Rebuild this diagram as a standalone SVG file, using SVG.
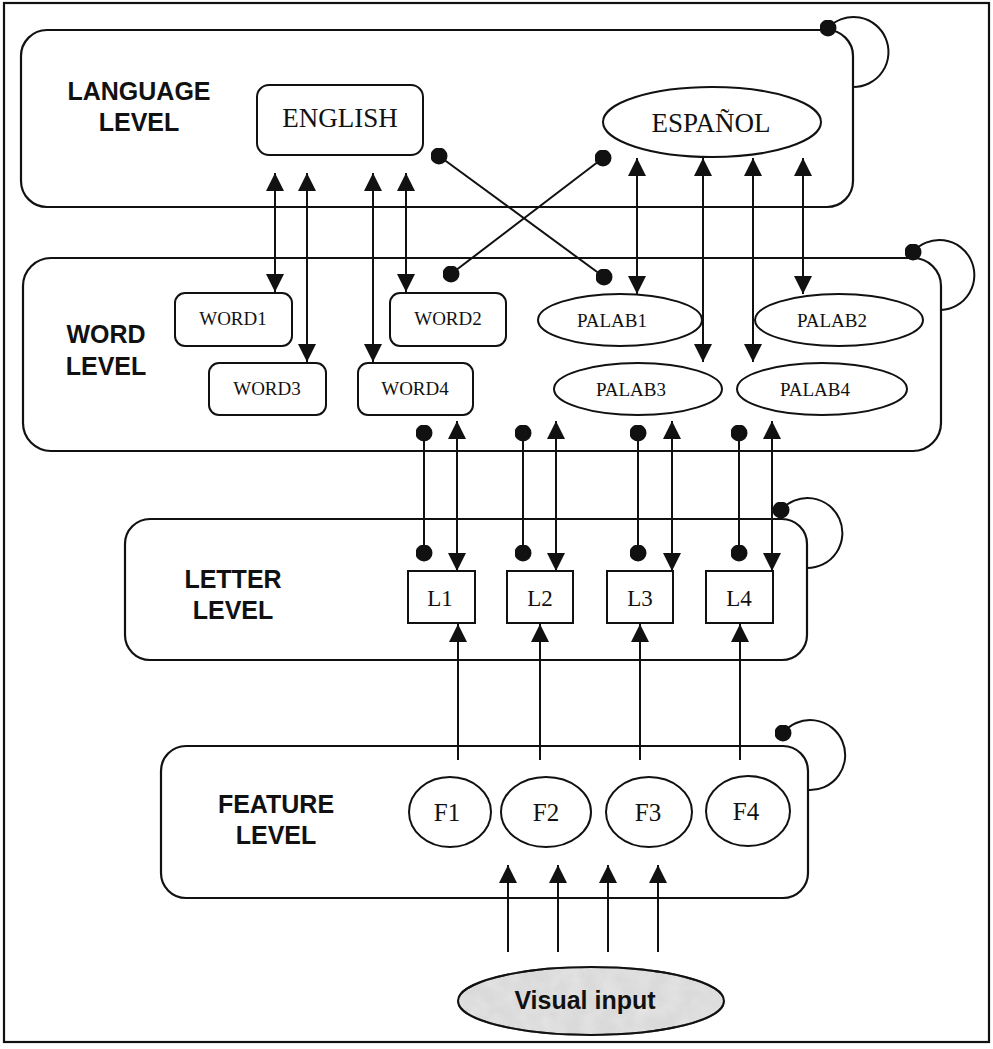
<svg xmlns="http://www.w3.org/2000/svg" width="993" height="1049" viewBox="0 0 993 1049">
  <style>
    .frame { fill: none; stroke: #111; stroke-width: 2.2; }
    .level { fill: none; stroke: #111; stroke-width: 2.2; }
    .node { fill: #fff; stroke: #111; stroke-width: 2; }
    .lvl-label { font-family: "Liberation Sans", Arial, sans-serif; font-weight: bold; font-size: 25px; fill: #111; text-anchor: middle; }
    .node-label { font-family: "Liberation Serif", "Times New Roman", serif; fill: #111; text-anchor: middle; }
    .conn { stroke: #111; stroke-width: 2; fill: none; }
    .both-arrow { marker-start: url(#arrow); marker-end: url(#arrow); }
    .up-arrow { marker-end: url(#arrow); }
    .both-dot { marker-start: url(#dot); marker-end: url(#dot); }
    .loop { marker-start: url(#dot); }
  </style>
  <defs>
    <marker id="arrow" viewBox="0 0 18 18" refX="18" refY="9" markerWidth="18" markerHeight="18" markerUnits="userSpaceOnUse" orient="auto-start-reverse">
      <path d="M0,0 L18,9 L0,18 z" fill="#111"/>
    </marker>
    <marker id="dot" viewBox="0 0 17 17" refX="8.5" refY="8.5" markerWidth="17" markerHeight="17" markerUnits="userSpaceOnUse">
      <circle cx="8.5" cy="8.5" r="8.5" fill="#111"/>
    </marker>
    <filter id="mottle" x="0" y="0" width="100%" height="100%">
      <feTurbulence type="fractalNoise" baseFrequency="0.06" numOctaves="3" seed="4" result="noise"/>
      <feColorMatrix in="noise" type="matrix" values="0 0 0 0 0.78  0 0 0 0 0.78  0 0 0 0 0.78  0 0 0 -1.6 1.1" result="spots"/>
      <feComposite in="spots" in2="SourceGraphic" operator="in" result="clipped"/>
      <feMerge><feMergeNode in="SourceGraphic"/><feMergeNode in="clipped"/></feMerge>
    </filter>
  </defs>

  <rect width="993" height="1049" fill="#fff"/>
  <rect class="frame" x="4" y="3" width="985" height="1039"/>

  <!-- processing levels -->
  <g id="language-level">
    <rect class="level" x="21" y="30" width="832" height="177" rx="26"/>
    <text class="lvl-label" x="139" y="100">LANGUAGE</text>
    <text class="lvl-label" x="139" y="131">LEVEL</text>
  </g>
  <g id="word-level">
    <rect class="level" x="23" y="258" width="918" height="193" rx="28"/>
    <text class="lvl-label" x="106" y="343">WORD</text>
    <text class="lvl-label" x="106" y="375">LEVEL</text>
  </g>
  <g id="letter-level">
    <rect class="level" x="125" y="519" width="682" height="141" rx="25"/>
    <text class="lvl-label" x="233" y="588">LETTER</text>
    <text class="lvl-label" x="233" y="619">LEVEL</text>
  </g>
  <g id="feature-level">
    <rect class="level" x="161" y="746" width="647" height="152" rx="25"/>
    <text class="lvl-label" x="276" y="813">FEATURE</text>
    <text class="lvl-label" x="276" y="844">LEVEL</text>
  </g>

  <!-- language nodes -->
  <g id="english">
    <rect class="node" x="257" y="85" width="166" height="70" rx="12"/>
    <text class="node-label" x="340" y="127" font-size="27">ENGLISH</text>
  </g>
  <g id="espanol">
    <ellipse class="node" cx="712" cy="122" rx="109" ry="35"/>
    <text class="node-label" x="711" y="132" font-size="27">ESPAÑOL</text>
  </g>

  <!-- word nodes -->
  <g id="word1">
    <rect class="node" x="175" y="293" width="117" height="53" rx="10"/>
    <text class="node-label" x="233" y="325" font-size="19">WORD1</text>
  </g>
  <g id="word2">
    <rect class="node" x="390" y="293" width="116" height="53" rx="10"/>
    <text class="node-label" x="448" y="325" font-size="19">WORD2</text>
  </g>
  <g id="word3">
    <rect class="node" x="209" y="363" width="117" height="52" rx="10"/>
    <text class="node-label" x="267" y="395" font-size="19">WORD3</text>
  </g>
  <g id="word4">
    <rect class="node" x="358" y="363" width="115" height="52" rx="10"/>
    <text class="node-label" x="415" y="395" font-size="19">WORD4</text>
  </g>
  <g id="palab1">
    <ellipse class="node" cx="620" cy="320" rx="82" ry="26"/>
    <text class="node-label" x="612" y="327" font-size="19">PALAB1</text>
  </g>
  <g id="palab2">
    <ellipse class="node" cx="839" cy="320" rx="84" ry="26"/>
    <text class="node-label" x="832" y="327" font-size="19">PALAB2</text>
  </g>
  <g id="palab3">
    <ellipse class="node" cx="638" cy="389" rx="84" ry="26"/>
    <text class="node-label" x="631" y="396" font-size="19">PALAB3</text>
  </g>
  <g id="palab4">
    <ellipse class="node" cx="822" cy="389" rx="85" ry="26"/>
    <text class="node-label" x="815" y="396" font-size="19">PALAB4</text>
  </g>

  <!-- letter nodes -->
  <g id="l1">
    <rect class="node" x="408" y="571" width="67" height="52"/>
    <text class="node-label" x="440" y="606" font-size="23">L1</text>
  </g>
  <g id="l2">
    <rect class="node" x="507" y="571" width="66" height="52"/>
    <text class="node-label" x="540" y="606" font-size="23">L2</text>
  </g>
  <g id="l3">
    <rect class="node" x="607" y="571" width="66" height="52"/>
    <text class="node-label" x="640" y="606" font-size="23">L3</text>
  </g>
  <g id="l4">
    <rect class="node" x="706" y="571" width="67" height="52"/>
    <text class="node-label" x="739" y="606" font-size="23">L4</text>
  </g>

  <!-- feature nodes -->
  <g id="f1">
    <ellipse class="node" cx="450" cy="812" rx="41" ry="35"/>
    <text class="node-label" x="447" y="821" font-size="25">F1</text>
  </g>
  <g id="f2">
    <ellipse class="node" cx="546" cy="812" rx="45" ry="35"/>
    <text class="node-label" x="546" y="821" font-size="25">F2</text>
  </g>
  <g id="f3">
    <ellipse class="node" cx="649" cy="812" rx="43" ry="35"/>
    <text class="node-label" x="648" y="821" font-size="25">F3</text>
  </g>
  <g id="f4">
    <ellipse class="node" cx="748" cy="811" rx="42" ry="35"/>
    <text class="node-label" x="746" y="820" font-size="25">F4</text>
  </g>

  <!-- input -->
  <g id="visual-input">
    <ellipse cx="591" cy="1001" rx="133" ry="34" fill="#dadada" stroke="#111" stroke-width="2" filter="url(#mottle)"/>
    <ellipse cx="591" cy="1001" rx="133" ry="34" fill="none" stroke="#111" stroke-width="2"/>
    <text class="lvl-label" x="585" y="1009">Visual input</text>
  </g>

  <!-- connectors -->
  <g id="connectors">
    <!-- language <-> word, excitatory -->
    <line class="conn both-arrow" x1="275" y1="173" x2="275" y2="292"/>
    <line class="conn both-arrow" x1="307" y1="173" x2="307" y2="362"/>
    <line class="conn both-arrow" x1="373" y1="173" x2="373" y2="362"/>
    <line class="conn both-arrow" x1="406" y1="173" x2="406" y2="292"/>
    <line class="conn both-arrow" x1="637" y1="158" x2="637" y2="294"/>
    <line class="conn both-arrow" x1="703" y1="158" x2="703" y2="362"/>
    <line class="conn both-arrow" x1="753" y1="158" x2="753" y2="362"/>
    <line class="conn both-arrow" x1="803" y1="158" x2="803" y2="294"/>

    <!-- language <-> word, inhibitory cross links -->
    <line class="conn both-dot" x1="439" y1="156" x2="604" y2="277"/>
    <line class="conn both-dot" x1="603" y1="158" x2="451" y2="274"/>

    <!-- word <-> letter -->
    <line class="conn both-dot" x1="424" y1="433" x2="424" y2="553"/>
    <line class="conn both-arrow" x1="457" y1="421" x2="457" y2="571"/>
    <line class="conn both-dot" x1="523" y1="433" x2="523" y2="553"/>
    <line class="conn both-arrow" x1="556" y1="421" x2="556" y2="571"/>
    <line class="conn both-dot" x1="638" y1="433" x2="638" y2="553"/>
    <line class="conn both-arrow" x1="672" y1="421" x2="672" y2="571"/>
    <line class="conn both-dot" x1="739" y1="433" x2="739" y2="553"/>
    <line class="conn both-arrow" x1="772" y1="421" x2="772" y2="571"/>

    <!-- feature -> letter -->
    <line class="conn up-arrow" x1="458" y1="760" x2="458" y2="624"/>
    <line class="conn up-arrow" x1="540" y1="760" x2="540" y2="624"/>
    <line class="conn up-arrow" x1="640" y1="760" x2="640" y2="624"/>
    <line class="conn up-arrow" x1="740" y1="760" x2="740" y2="624"/>

    <!-- visual input -> feature -->
    <line class="conn up-arrow" x1="508" y1="952" x2="508" y2="865"/>
    <line class="conn up-arrow" x1="558" y1="952" x2="558" y2="865"/>
    <line class="conn up-arrow" x1="608" y1="952" x2="608" y2="865"/>
    <line class="conn up-arrow" x1="658" y1="952" x2="658" y2="865"/>

    <!-- within-level inhibition loops -->
    <path class="conn loop" d="M828,28 A35,35 0 1 1 853,87"/>
    <path class="conn loop" d="M913,252 A35,35 0 1 1 941,310"/>
    <path class="conn loop" d="M781,510 A35,35 0 1 1 807,568"/>
    <path class="conn loop" d="M783,733 A35,35 0 1 1 808,790"/>
  </g>
</svg>
